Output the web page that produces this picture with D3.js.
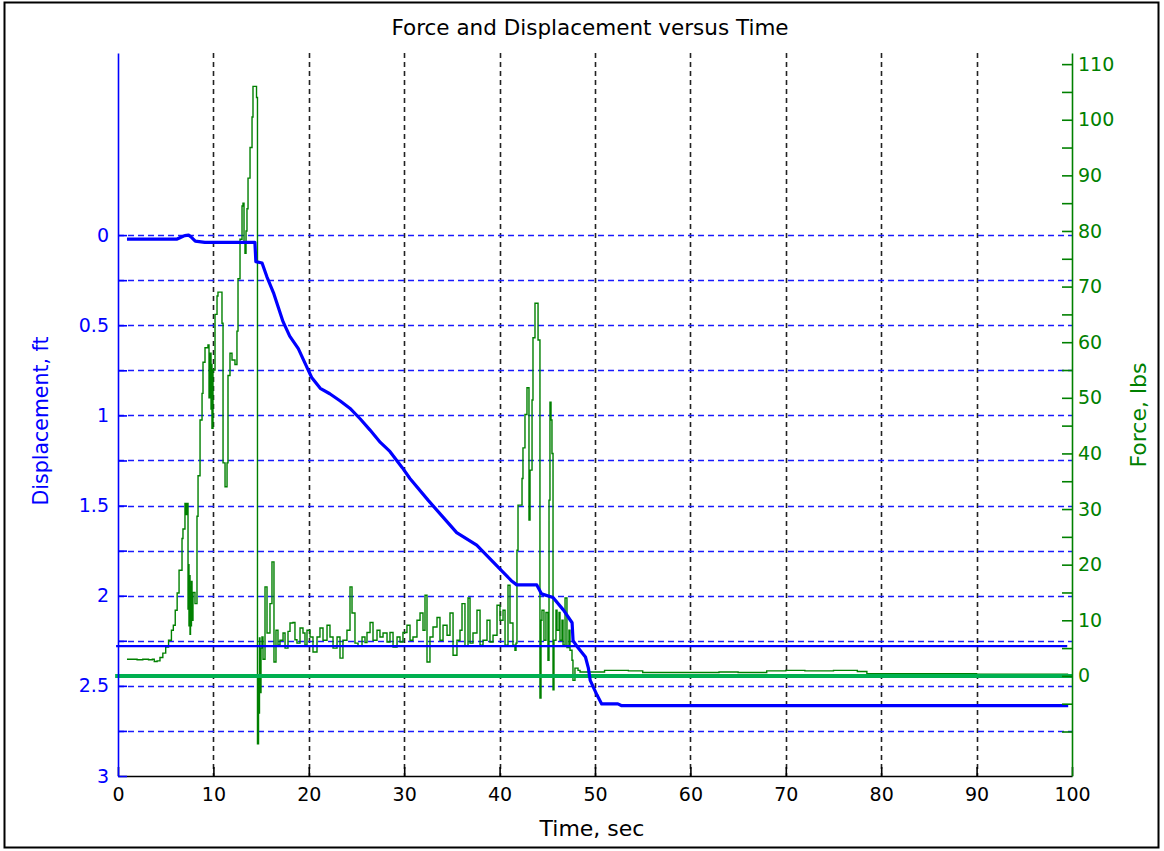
<!DOCTYPE html>
<meta charset="utf-8">
<script src="https://d3js.org/d3.v7.min.js"></script>
<style>
    html, body {
        margin: 0;
        background-color: white;
    }
    text {
        font-family: "DejaVu Sans", Verdana, sans-serif;
    }
</style>
<body></body>
<script>

    // DATA
    const timeTicks = [0, 10, 20, 30, 40, 50, 60, 70, 80, 90, 100];
    const timeGrid = [10, 20, 30, 40, 50, 60, 70, 80, 90];
    const dispTicks = [0, 0.25, 0.5, 0.75, 1, 1.25, 1.5, 1.75, 2, 2.25, 2.5, 2.75, 3];
    const dispLabels = [0, 0.5, 1, 1.5, 2, 2.5, 3];
    const forceTicks = [-10, -5, 0, 5, 10, 15, 20, 25, 30, 35, 40, 45, 50, 55, 60, 65, 70, 75, 80, 85, 90, 95, 100, 105, 110];
    const forceLabels = [0, 10, 20, 30, 40, 50, 60, 70, 80, 90, 100, 110];

    // displacement, ft
    const dispTime = [0.94, 6.2, 6.6, 7.0, 7.4, 7.7, 8.1, 9.1, 14.35, 14.45, 15.1, 15.6, 16.3, 16.8, 17.3, 18.0,
        18.9, 19.6, 20.3, 21.2, 22.2, 23.3, 24.3, 25.4, 26.4, 27.5, 28.5, 29.8, 30.6, 32.5, 34.0, 35.5, 37.6,
        40.0, 41.3, 41.8, 43.9, 44.4, 45.6, 46.7, 47.6, 47.7, 48.1, 49.0, 49.3, 49.5, 50.2, 50.7, 52.4, 52.8, 99.6];
    const dispValue = [0.022, 0.022, 0.012, 0.003, 0.0, 0.012, 0.033, 0.04, 0.04, 0.147, 0.155, 0.23, 0.32, 0.40, 0.48, 0.56,
        0.63, 0.71, 0.79, 0.85, 0.88, 0.92, 0.96, 1.02, 1.08, 1.15, 1.20, 1.29, 1.35, 1.47, 1.56, 1.65, 1.72,
        1.85, 1.92, 1.94, 1.94, 1.99, 2.01, 2.08, 2.15, 2.25, 2.28, 2.34, 2.40, 2.47, 2.55, 2.60, 2.60, 2.61, 2.61];

    // force, lbs
    const forceTime = [0.94, 1.5, 2.0, 2.6, 3.2, 3.6, 3.8, 4.1, 4.4, 4.7, 5.0, 5.3, 5.6, 5.8, 6.0, 6.2, 6.4,
        6.71, 6.81, 7.02, 7.13, 7.23, 7.34, 7.39, 7.44, 7.49, 7.55, 7.60, 7.65, 7.70, 7.76, 7.86, 8.07, 8.28, 8.39,
        8.60, 8.81, 8.91, 9.12, 9.43, 9.54, 9.64, 9.75, 9.80, 9.85, 9.96, 10.17, 10.38, 10.48, 10.69, 10.90, 11.01,
        11.22, 11.43, 11.53, 11.74, 11.95, 12.26, 12.47, 12.58, 12.79, 13.00, 13.10, 13.21, 13.31, 13.42, 13.52,
        13.63, 13.84, 14.05, 14.15, 14.36, 14.52, 14.62, 14.73, 14.78, 14.83, 14.88, 14.99, 15.09, 15.20, 15.41,
        15.62, 15.93, 16.14, 16.35, 16.56, 16.77, 16.98, 17.30, 17.51, 17.82, 18.03, 18.34, 18.55, 18.76, 19.08,
        19.39, 19.60, 19.81, 20.13, 20.44, 20.86, 21.17, 21.49, 21.91, 22.22, 22.54, 22.96, 23.27, 23.58, 24.00,
        24.32, 24.53, 24.84, 25.16, 25.58, 25.89, 26.10, 26.42, 26.73, 27.15, 27.46, 27.78, 28.20, 28.51, 28.83,
        29.25, 29.56, 29.87, 30.29, 30.61, 30.92, 31.34, 31.66, 31.97, 32.18, 32.39, 32.70, 33.02, 33.44, 33.75,
        34.07, 34.49, 34.80, 35.12, 35.53, 35.85, 36.06, 36.37, 36.69, 36.90, 37.21, 37.63, 37.95, 38.26, 38.68,
        38.99, 39.31, 39.73, 40.04, 40.36, 40.57, 40.88, 41.09, 41.40, 41.61, 41.72, 41.82, 41.93, 42.14, 42.35,
        42.45, 42.66, 42.87, 42.98, 43.08, 43.19, 43.40, 43.50, 43.71, 43.92, 44.03, 44.23, 44.34, 44.44, 44.65,
        44.86, 45.07, 45.18, 45.28, 45.39, 45.49, 45.60, 45.70, 45.91, 46.02, 46.23, 46.33, 46.54, 46.65, 46.86,
        47.06, 47.27, 47.38, 47.59, 47.69, 47.90, 48.22, 48.43, 50.0, 51.0, 53.5, 55.0, 60.0, 63.0, 65.0, 68.0,
        70.0, 72.0, 75.0, 77.5, 78.5, 85.0, 90.0, 95.0, 99.6];
    const forceValue = [3.0, 3.0, 2.9, 3.0, 2.9, 3.0, 2.6, 2.7, 3.3, 4.1, 5.2, 6.4, 8.2, 9.1, 11.8, 14.9, 19.0,
        24.7, 26.4, 31, 29, 31, 12, 20, 9, 18, 7.5, 16, 9, 17, 10, 15, 13, 28.7, 36,
        46, 50.8, 56.4, 59, 59.5, 50, 58, 48, 56, 44.5, 55, 65, 68.3, 69, 69, 63.4, 38.3,
        34, 38.3, 54, 58, 56.8, 56, 62, 71.4, 78.5, 84.5, 85, 78, 76, 80, 84,
        89.5, 95, 100.5, 106, 106, 104, -12.2, 0, -6.7, 6.8, -3, 5, 7, 3, 16,
        7.7, 13, 20.5, 2.5, 8.2, 5.5, 6.4, 7.7, 5, 8, 9.5, 9.6, 6.5, 5.9, 8.6,
        7.7, 5.5, 8.2, 7, 4.3, 7, 8.6, 6.4, 9.1, 7, 5, 7, 3.2, 6.4, 8.2,
        16, 11.3, 5.9, 5.3, 7, 6, 7.8, 9.6, 6.4, 8.2, 7, 7.7, 6.1, 7.8, 5.2,
        7, 6.1, 7.8, 9.1, 6.4, 7, 10, 11.3, 8.2, 14.5, 2.5, 7, 8.8, 10.5, 6.4,
        9.1, 7.3, 11.3, 3.7, 6.4, 8.2, 13, 5.3, 14, 5.9, 7.7, 11.8, 5.5, 6.4, 10,
        6.1, 7.3, 12.7, 10, 11.8, 5.5, 16.3, 9.5, 5.5, 4.6, 5.9, 22.6, 30.7, 30.7, 35.5,
        41, 47, 51.8, 51.8, 28, 37, 49.6, 60.8, 67, 67, 60.4, -4, 10, 11.8, 6.4,
        11.4, 2.8, 31.6, 49.2, 46, 40, -2.5, 6.4, 11.8, 8.2, 11.4, 6.4, 10, 5.5, 14,
        5.1, 8.2, 4.6, 2.8, -0.8, 1.4, 1.0, 0.7, 0.7, 1.0, 0.9, 0.6, 0.6, 0.7, 0.6, 0.9,
        1.0, 0.9, 1.0, 0.8, 0.4, 0.4, 0.3, 0.3, 0.3];

    // horizontal reference lines
    const refDisp = 2.28;     // thin solid blue line, ft
    const refForce = 0;       // thick green line, lbs

    // DESIGN CONSTANTS
    const width = 1164;
    const height = 851;
    const blue = "#0000ff";
    const green = "#008000";
    const lightGreen = "#00b050";

    const svg = d3.select("body").append("svg")
        .attr("width", width)
        .attr("height", height);

    // outer frame
    svg.append("rect")
        .attr("x", 4.5).attr("y", 2.5)
        .attr("width", 1154).attr("height", 845)
        .attr("fill", "white")
        .attr("stroke", "black")
        .attr("stroke-width", 2);

    // scales
    const x = d3.scaleLinear().domain([0, 100]).range([118, 1072]);
    const yDisp = d3.scaleLinear().domain([-1.01, 3]).range([53, 776]);
    const yForce = d3.scaleLinear().domain([-18, 112]).range([776, 53]);

    // grid
    svg.append("g").selectAll("line")
        .data(timeGrid)
        .join("line")
        .attr("x1", d => Math.round(x(d)) + 0.5).attr("x2", d => Math.round(x(d)) + 0.5)
        .attr("y1", yDisp.range()[0]).attr("y2", yDisp.range()[1])
        .attr("stroke", "#222")
        .attr("stroke-width", 1.6)
        .attr("stroke-dasharray", "5,4");

    svg.append("g").selectAll("line")
        .data(dispTicks.filter(d => d < 3))
        .join("line")
        .attr("x1", x(0)).attr("x2", x(100))
        .attr("y1", d => Math.round(yDisp(d)) + 0.5).attr("y2", d => Math.round(yDisp(d)) + 0.5)
        .attr("stroke", "#1a1aff")
        .attr("stroke-width", 1.4)
        .attr("stroke-dasharray", "6,4");

    // force trace (sample-and-hold look)
    const force = forceTime.map((t, i) => [t, forceValue[i]]);
    svg.append("path")
        .datum(force)
        .attr("fill", "none")
        .attr("stroke", green)
        .attr("stroke-width", 1.4)
        .attr("d", d3.line().curve(d3.curveStepAfter).x(d => x(d[0])).y(d => yForce(d[1])));

    // reference lines
    svg.append("line")
        .attr("x1", x(-0.3)).attr("x2", x(100))
        .attr("y1", yForce(refForce)).attr("y2", yForce(refForce))
        .attr("stroke", lightGreen)
        .attr("stroke-width", 4);

    svg.append("line")
        .attr("x1", x(-0.2)).attr("x2", x(99.5))
        .attr("y1", yDisp(refDisp)).attr("y2", yDisp(refDisp))
        .attr("stroke", blue)
        .attr("stroke-width", 2.2);

    // displacement trace
    const disp = dispTime.map((t, i) => [t, dispValue[i]]);
    svg.append("path")
        .datum(disp)
        .attr("fill", "none")
        .attr("stroke", blue)
        .attr("stroke-width", 3.2)
        .attr("stroke-linejoin", "round")
        .attr("d", d3.line().x(d => x(d[0])).y(d => yDisp(d[1])));

    // axes
    function styleAxis(g, color, size) {
        g.attr("font-family", null).attr("font-size", size);
        g.select(".domain").attr("stroke", color).attr("stroke-width", 1.6);
        g.selectAll(".tick line").attr("stroke", color).attr("stroke-width", 1.6);
        g.selectAll(".tick text").attr("fill", color);
    }

    svg.append("g")
        .attr("transform", `translate(0,${yDisp(3)})`)
        .call(d3.axisBottom(x).tickValues(timeTicks).tickSizeInner(-9).tickSizeOuter(0).tickPadding(12))
        .call(g => styleAxis(g, "black", 19));

    svg.append("g")
        .attr("transform", `translate(${x(0)},0)`)
        .call(d3.axisLeft(yDisp).tickValues(dispTicks)
            .tickFormat(d => dispLabels.includes(d) ? String(d) : "")
            .tickSizeInner(-9).tickSizeOuter(0).tickPadding(9))
        .call(g => styleAxis(g, blue, 19));

    svg.append("g")
        .attr("transform", `translate(${x(100)},0)`)
        .call(d3.axisRight(yForce).tickValues(forceTicks)
            .tickFormat(d => forceLabels.includes(d) ? String(d) : "")
            .tickSizeInner(-10).tickSizeOuter(0).tickPadding(6))
        .call(g => styleAxis(g, green, 19));

    // titles
    svg.append("text")
        .attr("x", 590).attr("y", 35)
        .attr("text-anchor", "middle")
        .attr("font-size", 21.5)
        .text("Force and Displacement versus Time");

    svg.append("text")
        .attr("x", 592).attr("y", 836)
        .attr("text-anchor", "middle")
        .attr("font-size", 22)
        .text("Time, sec");

    svg.append("text")
        .attr("transform", "translate(48,421) rotate(-90)")
        .attr("text-anchor", "middle")
        .attr("font-size", 20.5)
        .attr("fill", blue)
        .text("Displacement, ft");

    svg.append("text")
        .attr("transform", "translate(1146,415) rotate(-90)")
        .attr("text-anchor", "middle")
        .attr("font-size", 22)
        .attr("fill", green)
        .text("Force, lbs");

</script>
